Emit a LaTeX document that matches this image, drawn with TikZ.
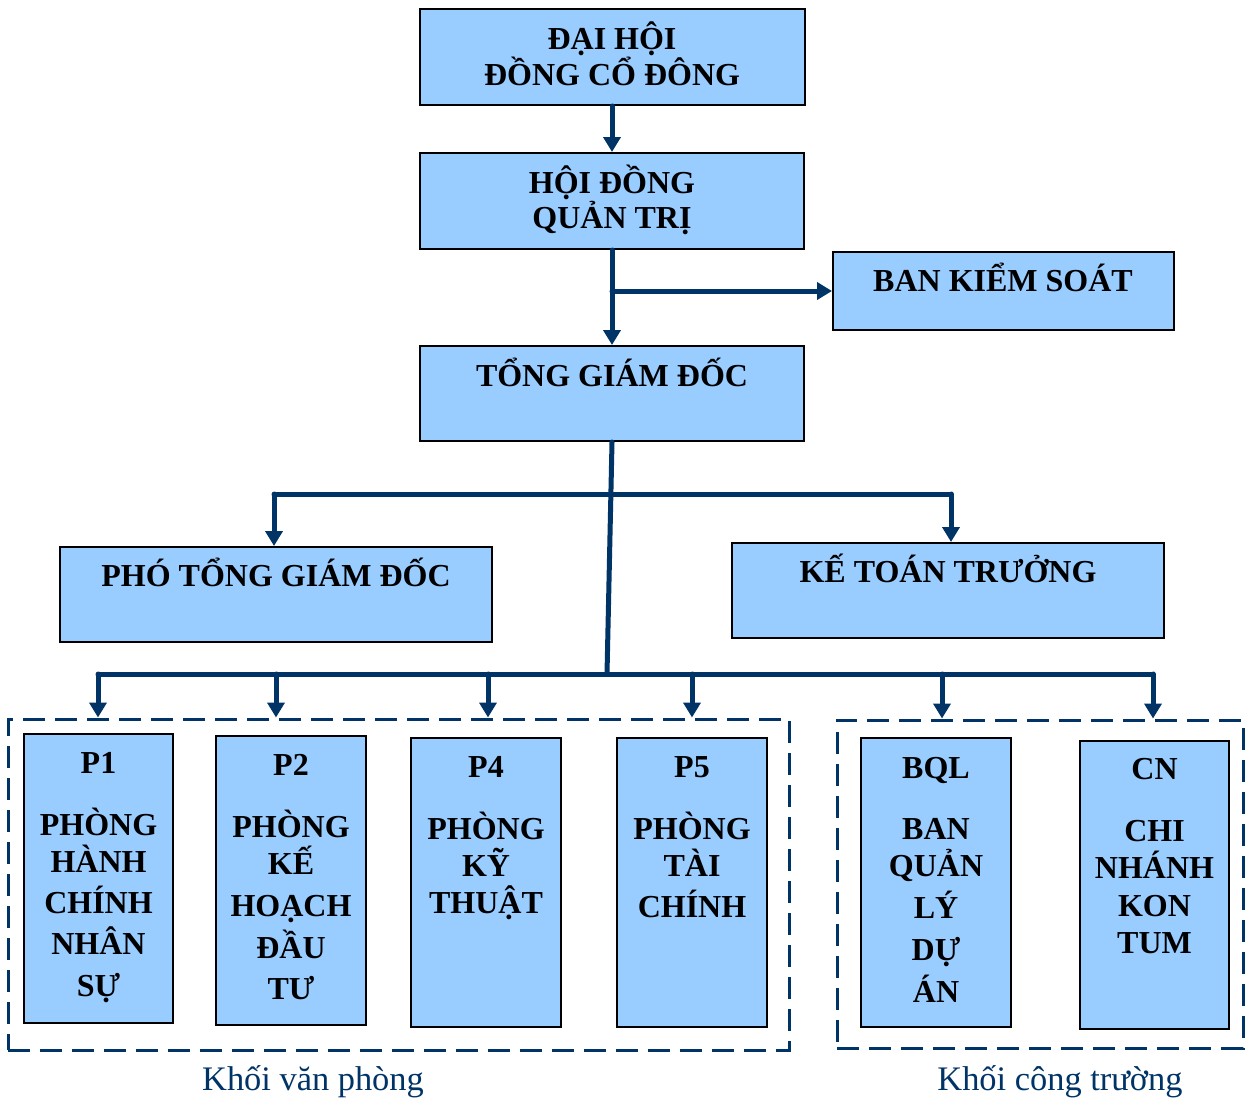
\documentclass[tikz,border=0pt]{standalone}
\usepackage{fontspec}
\setmainfont{Liberation Serif}
\usetikzlibrary{arrows.meta}
\definecolor{boxblue}{HTML}{99CCFF}
\definecolor{darknavy}{HTML}{003366}
\newcommand\topline{\rule{0pt}{16pt}}
\begin{document}
\begin{tikzpicture}[x=0.5pt, y=-0.5pt,
  box/.style={draw=black, line width=1pt, fill=boxblue, inner sep=0pt},
  txt/.style={anchor=north, inner sep=0pt, align=center, font=\bfseries\fontsize{16pt}{18.5pt}\selectfont},
  conn/.style={draw=darknavy, line width=2.5pt, line cap=round},
  arr/.style={conn, -{Triangle[length=7.5pt,width=8.5pt]}},
  frame/.style={draw=darknavy, line width=1.5pt, dash pattern=on 11pt off 5pt, inner sep=0pt},
  lbl/.style={anchor=base, inner sep=0pt, text=darknavy, font=\fontsize{17.2pt}{19pt}\selectfont}]
\useasboundingbox (0,0) rectangle (1246,1097);
% obere Ebene
\node[box, minimum width=192.5pt, minimum height=48pt]   (dh)   at (612,57)     {};
\node[box, minimum width=192pt,   minimum height=48pt]   (hd)   at (612,201)    {};
\node[box, minimum width=170.5pt, minimum height=39pt]   (bks)  at (1003.5,291) {};
\node[box, minimum width=192pt,   minimum height=47.5pt] (tgd)  at (612,393.5)  {};
\node[box, minimum width=216pt,   minimum height=47.5pt] (ptgd) at (276,594.5)  {};
\node[box, minimum width=216pt,   minimum height=47.5pt] (ktt)  at (948,590.5)  {};
\node[txt] (dhT)   at (612,17)    {\topline ĐẠI HỘI\\[-0.5pt]ĐỒNG CỔ ĐÔNG};
\node[txt] (hdT)   at (612,161)   {\topline HỘI ĐỒNG\\[-1pt]QUẢN TRỊ};
\node[txt] (bksT)  at (1003,259)  {\topline BAN KIỂM SOÁT};
\node[txt] (tgdT)  at (612,354)   {\topline TỔNG GIÁM ĐỐC};
\node[txt] (ptgdT) at (276,554)   {\topline PHÓ TỔNG GIÁM ĐỐC};
\node[txt] (kttT)  at (948,550)   {\topline KẾ TOÁN TRƯỞNG};
% Khoi van phong / Khoi cong truong
\node[frame, minimum width=390.5pt, minimum height=165.5pt] (vp) at (398.5,884.5) {};
\node[frame, minimum width=203pt,   minimum height=164pt]   (ct) at (1040,884)    {};
\node[box, minimum width=74.5pt, minimum height=144.5pt] (p1)  at (98.5,878.5)  {};
\node[box, minimum width=75pt,   minimum height=144.5pt] (p2)  at (291,880.5)   {};
\node[box, minimum width=75pt,   minimum height=144.5pt] (p4)  at (486,882.5)   {};
\node[box, minimum width=75pt,   minimum height=144.5pt] (p5)  at (692,882.5)   {};
\node[box, minimum width=75pt,   minimum height=144.5pt] (bql) at (936,882.5)   {};
\node[box, minimum width=74.5pt, minimum height=144pt]   (cn)  at (1154.5,885)  {};
\node[txt] (p1T)  at (98.5,741)  {\topline P1\\[12.5pt]PHÒNG\\HÀNH\\[2pt]CHÍNH\\[2pt]NHÂN\\[2.5pt]SỰ};
\node[txt] (p2T)  at (291,743)   {\topline P2\\[12.5pt]PHÒNG\\KẾ\\[2.5pt]HOẠCH\\[2.5pt]ĐẦU\\[2pt]TƯ};
\node[txt] (p4T)  at (486,745)   {\topline P4\\[12.5pt]PHÒNG\\KỸ\\THUẬT};
\node[txt] (p5T)  at (692,745)   {\topline P5\\[12.5pt]PHÒNG\\TÀI\\[2pt]CHÍNH};
\node[txt] (bqlT) at (936,746)   {\topline BQL\\[12pt]BAN\\QUẢN\\[2.5pt]LÝ\\[2.5pt]DỰ\\[2.5pt]ÁN};
\node[txt] (cnT)  at (1154.5,747){\topline CN\\[12.5pt]CHI\\NHÁNH\\[0.5pt]KON\\TUM};
\node[lbl] (vpL) at (313,1090)  {Khối văn phòng};
\node[lbl] (ctL) at (1060,1090) {Khối công trường};
% Verbindungen
\coordinate (trunk) at (607,674);
\coordinate (busL)  at (274,494);
\coordinate (busR)  at (951,494);
\coordinate (b1) at (98,674);
\coordinate (b2) at (276,674);
\coordinate (b3) at (488,674);
\coordinate (b4) at (692,674);
\coordinate (b5) at (942,674);
\coordinate (b6) at (1153,674);
\draw[arr]  (dh.south) -- (hd.north);
\draw[arr]  (hd.south) -- (tgd.north);
\draw[arr]  (hd.south |- bks.west) -- (bks.west);
\draw[conn] (tgd.south) -- (trunk);
\draw[conn] (busL) -- (busR);
\draw[arr]  (busL) -- (busL |- ptgd.north);
\draw[arr]  (busR) -- (busR |- ktt.north);
\draw[conn] (b1) -- (b6);
\foreach \b in {b1,b2,b3,b4}
  \draw[arr] (\b) -- (\b |- vp.north);
\foreach \b in {b5,b6}
  \draw[arr] (\b) -- (\b |- ct.north);
\end{tikzpicture}
\end{document}
